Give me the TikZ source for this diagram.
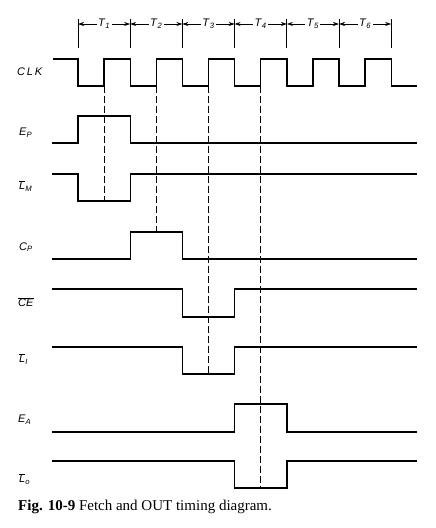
\documentclass[tikz,border=0pt]{standalone}
\usepackage{fontspec}
\setmainfont{Liberation Serif}
\setsansfont{Liberation Sans}
\usetikzlibrary{arrows.meta}

\newcommand{\sig}[2]{\textit{#1}\textsubscript{\textit{#2}}}
\newcommand{\barL}{$\overline{\mbox{\textit{L}}}$}

\begin{document}
\begin{tikzpicture}[x=1pt,y=-1pt,>={Stealth[length=6pt,width=4pt]},
                signal/.style={line width=1.4pt},
                guide/.style={line width=0.6pt,dash pattern=on 7pt off 3pt},
                name node/.style={anchor=west,inner sep=0pt,font=\sffamily\fontsize{11}{13}\selectfont}]

        \useasboundingbox (0,0) rectangle (436,528);

        % time slots
        \foreach \i in {0,...,6}
            \coordinate (t\i) at (78+52.2*\i,24);
        \foreach \i in {0,...,6}
            \draw[line width=0.7pt] (t\i) ++(0,-5) -- ++(0,29);
        \foreach \i [count=\j] in {0,...,5}
            \draw[<->,line width=0.6pt] (t\i) -- node[fill=white,inner sep=1.5pt,font=\sffamily\fontsize{11}{13}\selectfont] {\sig{T}{\j}} (t\j);

        % signal names
        \node[name node] (clk) at (17,72) {\textit{C\,L\,K}};
        \node[name node] (ep) at (19,133) {\sig{E}{P}};
        \node[name node] (lm) at (19,186) {\barL\textsubscript{\textit{M}}};
        \node[name node] (cp) at (19,247) {\sig{C}{P}};
        \node[name node] (ce) at (18,302) {$\overline{\mbox{\textit{CE}}}$};
        \node[name node] (li) at (19,359) {\barL\textsubscript{\textit{I}}};
        \node[name node] (ea) at (18,420) {\sig{E}{A}};
        \node[name node] (lo) at (19,479) {\barL\textsubscript{\textit{o}}};

        % clock
        \draw[signal] (53,59) -- (78,59)
            \foreach \i in {1,...,6} { -- ++(0,27) -- ++(26.1,0) -- ++(0,-27) -- ++(26.1,0) }
            -- ++(0,27) -- (417,86);

        % waveforms
        \draw[signal] (52,143) -- (78,143) -- (78,116) -- (130.2,116) -- (130.2,143) -- (417,143);
        \draw[signal] (52,174) -- (78,174) -- (78,201) -- (130.2,201) -- (130.2,174) -- (417,174);
        \draw[signal] (52,259) -- (130.2,259) -- (130.2,232) -- (182.4,232) -- (182.4,259) -- (417,259);
        \draw[signal] (52,289) -- (182.4,289) -- (182.4,317) -- (234.6,317) -- (234.6,289) -- (417,289);
        \draw[signal] (52,347) -- (182.4,347) -- (182.4,374) -- (234.6,374) -- (234.6,347) -- (417,347);
        \draw[signal] (52,432) -- (234.6,432) -- (234.6,404) -- (286.8,404) -- (286.8,432) -- (417,432);
        \draw[signal] (52,461) -- (234.6,461) -- (234.6,488) -- (286.8,488) -- (286.8,461) -- (417,461);

        % rising edges
        \draw[guide] (104.1,86) -- (104.1,201);
        \draw[guide] (156.3,86) -- (156.3,232);
        \draw[guide] (208.5,86) -- (208.5,374);
        \draw[guide] (260.7,86) -- (260.7,488);

        \node[anchor=base west,inner sep=0pt,font=\fontsize{15}{18}\selectfont] (cap) at (18,510)
            {\textbf{Fig. 10-9} Fetch and OUT timing diagram.};

\end{tikzpicture}
\end{document}
